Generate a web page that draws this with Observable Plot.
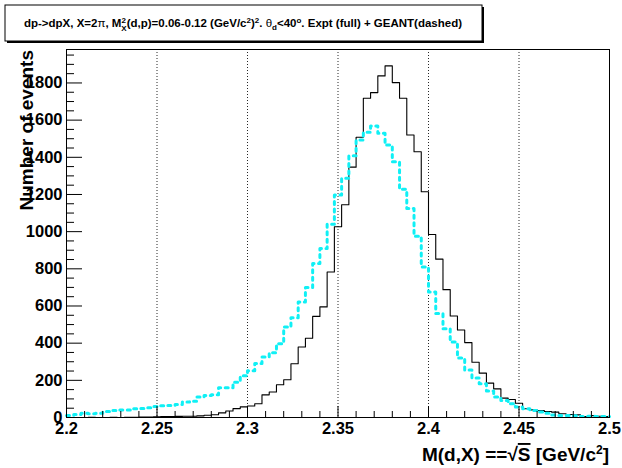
<!DOCTYPE html>
<html><head><meta charset="utf-8">
<script src="https://cdn.jsdelivr.net/npm/d3@7"></script>
<script src="https://cdn.jsdelivr.net/npm/@observablehq/plot@0.6"></script>
<style>
body{margin:0;background:#fff}
#chart{position:relative;width:622px;height:468px}
</style>
</head><body><div id="chart"></div>
<script>
// Histogram binning: 75 bins of 0.004 GeV from 2.2 to 2.5
const binLow = 2.2;
const binWidth = 0.004;
// Experiment (full line)
const exptCounts = [0,0,0,1,0,0,1,0,1,1,2,2,4,5,5,6,7,7,9,12,15,25,35,48,57,62,74,122,137,176,203,289,379,426,544,595,783,1026,1145,1347,1508,1718,1748,1838,1892,1802,1718,1520,1430,1215,985,852,688,546,471,403,297,239,185,154,104,97,77,47,41,38,32,29,20,16,14,5,10,7,5];
// GEANT simulation (dashed line)
const geantCounts = [11,16,23,20,23,32,38,41,41,47,49,52,59,63,65,70,83,88,110,119,122,160,160,190,224,252,290,325,349,397,487,537,622,699,828,909,1040,1197,1287,1408,1493,1535,1569,1529,1466,1376,1228,1125,975,810,675,559,478,406,320,255,212,182,142,110,92,74,56,47,38,29,23,14,11,11,9,5,7,5,5];
const xTicks = [2.2,2.25,2.3,2.35,2.4,2.45,2.5];
const xTickLabels = ["2.2","2.25","2.3","2.35","2.4","2.45","2.5"];
const xGrid = [2.25,2.3,2.35,2.4,2.45];
const yTicks = [0,200,400,600,800,1000,1200,1400,1600,1800];
const yTickLabels = ["0","200","400","600","800","1000","1200","1400","1600","1800"];

function steps(counts){
  const pts = counts.map((c,i)=>({x: binLow + i*binWidth, y: c}));
  pts.push({x: binLow + counts.length*binWidth, y: counts[counts.length-1]});
  return pts;
}
const xMinor = d3.range(0,31).map(i=>2.2+i*0.01).filter(v=>!xTicks.some(t=>Math.abs(t-v)<1e-6));
const yMinor = d3.range(0,1981,50).filter(v=>v%200!==0);
const xLab = new Map(xTicks.map((t,i)=>[t,xTickLabels[i]]));
const yLab = new Map(yTicks.map((t,i)=>[t,yTickLabels[i]]));

const W=622,H=468,ML=66,MR=13,MT=49,MB=51;
const FW = W-ML-MR, FH = H-MT-MB;
const font = "'Liberation Sans', Arial, Helvetica, sans-serif";

const plot = Plot.plot({
  width: W, height: H,
  marginLeft: ML, marginRight: MR, marginTop: MT, marginBottom: MB,
  x: {domain: [2.2, 2.5]},
  y: {domain: [0, 1980]},
  style: {fontFamily: font, fontWeight: "bold", fontSize: "16.5px", background: "white", color: "black", overflow: "visible"},
  marks: [
    Plot.gridX(xGrid, {stroke: "black", strokeOpacity: 0.85, strokeDasharray: "1,2"}),
    Plot.line(steps(exptCounts), {x: "x", y: "y", curve: "step-after", stroke: "black", strokeWidth: 1.1}),
    Plot.line(steps(geantCounts), {x: "x", y: "y", curve: "step-after", stroke: "#10f0f5", strokeWidth: 3, strokeDasharray: "3,4.5"}),
    Plot.tickY(yTicks, {y: d=>d, insetRight: FW-16, stroke: "black"}),
    Plot.tickY(yMinor, {y: d=>d, insetRight: FW-8, stroke: "black"}),
    Plot.tickX(xTicks, {x: d=>d, insetTop: FH-11, stroke: "black"}),
    Plot.tickX(xMinor, {x: d=>d, insetTop: FH-6, stroke: "black"}),
    Plot.axisY(yTicks, {tickSize: 0, tickPadding: 4, label: null, tickFormat: d=>yLab.get(d)}),
    Plot.axisX(xTicks, {tickSize: 0, tickPadding: 5, label: null, tickFormat: d=>xLab.get(d)}),
    Plot.frame({stroke: "black", strokeWidth: 1})
  ]
});
document.getElementById("chart").append(plot);

const svg = d3.select(plot);
// Title box
const g = svg.append("g");
g.append("rect").attr("x",7).attr("y",7).attr("width",477).attr("height",36).attr("fill","black");
g.append("rect").attr("x",5).attr("y",5).attr("width",477).attr("height",36).attr("fill","white").attr("stroke","black").attr("stroke-width",1);
const t = g.append("text").attr("x",243).attr("y",27).attr("text-anchor","middle")
  .attr("font-family",font).attr("font-weight","bold").attr("font-size","11.5px").attr("fill","black");
const parts = [
  ["dp->dpX, X=2",0,11.5],["π",0,11.5,"normal"],[", M",0,11.5],["2",-4,8],["X",3.5,8,null,-4.5],
  ["(d,p)=0.06-0.12 (GeV/c",0,11.5],["2",-4,8],[")",0,11.5],["2",-4,8],[". ",0,11.5],["θ",0,11.5,"normal"],["d",3,8],
  ["<40",0,11.5],["o",-4,8],[". Expt (full) + GEANT(dashed)",0,11.5]
];
let prev=0;
for(const [txt,shift,size,weight,dx] of parts){
  const ts=t.append("tspan").text(txt).attr("dy",shift-prev).attr("font-size",size+"px");
  if(weight) ts.attr("font-weight",weight);
  if(dx) ts.attr("dx",dx);
  prev=shift;
}
// Y axis title (overlaps the leading digit of the upper labels, as in the original)
svg.append("text").attr("transform","translate(33,50) rotate(-90)").attr("text-anchor","end")
  .attr("font-family",font).attr("font-weight","bold").attr("font-size","19px").attr("fill","black").text("Number of events");
// X axis title
const xt = svg.append("text").attr("x",609).attr("y",461).attr("text-anchor","end")
  .attr("font-family",font).attr("font-weight","bold").attr("font-size","19px").attr("fill","black");
xt.append("tspan").text("M(d,X) ==√");
xt.append("tspan").text("S").attr("text-decoration","overline");
xt.append("tspan").text(" [GeV/c");
xt.append("tspan").text("2").attr("font-size","12px").attr("dy",-7);
xt.append("tspan").text("]").attr("dy",7);
</script>
</body></html>
